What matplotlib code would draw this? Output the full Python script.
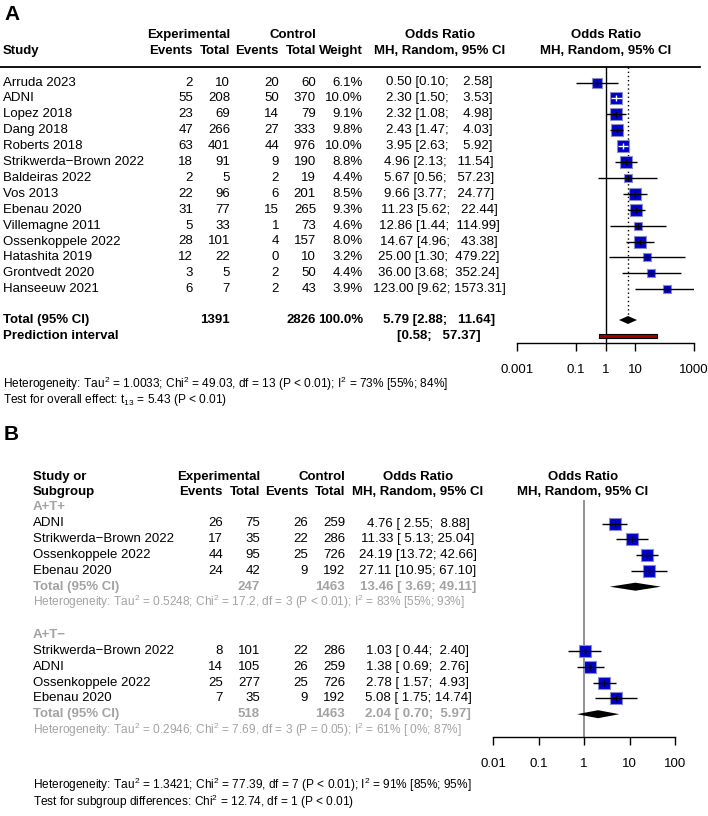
import matplotlib
matplotlib.use("Agg")
import matplotlib.pyplot as plt
import numpy as np

plt.rcParams['font.family'] = ['Liberation Sans', 'DejaVu Sans']
plt.rcParams['mathtext.fontset'] = 'custom'
plt.rcParams['mathtext.rm'] = 'Liberation Sans'
plt.rcParams['mathtext.it'] = 'Liberation Sans:italic'
plt.rcParams['mathtext.bf'] = 'Liberation Sans:bold'

# ---- panel A data
studies_a = ["Arruda 2023", "ADNI", "Lopez 2018", "Dang 2018", "Roberts 2018",
             "Strikwerda\u2212Brown 2022", "Baldeiras 2022", "Vos 2013", "Ebenau 2020",
             "Villemagne 2011", "Ossenkoppele 2022", "Hatashita 2019", "Grontvedt 2020",
             "Hanseeuw 2021"]
ev_exp_a = [2, 55, 23, 47, 63, 18, 2, 22, 31, 5, 28, 12, 3, 6]
n_exp_a = [10, 208, 69, 266, 401, 91, 5, 96, 77, 33, 101, 22, 5, 7]
ev_ctl_a = [20, 50, 14, 27, 44, 9, 2, 6, 15, 1, 4, 0, 2, 2]
n_ctl_a = [60, 370, 79, 333, 976, 190, 19, 201, 265, 73, 157, 10, 50, 43]
weight_a = [6.1, 10.0, 9.1, 9.8, 10.0, 8.8, 4.4, 8.5, 9.3, 4.6, 8.0, 3.2, 4.4, 3.9]
or_a = [0.50, 2.30, 2.32, 2.43, 3.95, 4.96, 5.67, 9.66, 11.23, 12.86, 14.67, 25.00, 36.00, 123.00]
lo_a = [0.10, 1.50, 1.08, 1.47, 2.63, 2.13, 0.56, 3.77, 5.62, 1.44, 4.96, 1.30, 3.68, 9.62]
hi_a = [2.58, 3.53, 4.98, 4.03, 5.92, 11.54, 57.23, 24.77, 22.44, 114.99, 43.38, 479.22, 352.24, 1573.31]
tot_n_a = [1391, 2826]
tot_or_a = [5.79, 2.88, 11.64]
pred_a = [0.58, 57.37]
ticks_a = [0.001, 0.1, 1, 10, 1000]
tick_lab_a = ["0.001", "0.1", "1", "10", "1000"]

# ---- panel B data
groups_b = ["A+T+", "A+T\u2212"]
studies_b = [["ADNI", "Strikwerda\u2212Brown 2022", "Ossenkoppele 2022", "Ebenau 2020"],
             ["Strikwerda\u2212Brown 2022", "ADNI", "Ossenkoppele 2022", "Ebenau 2020"]]
ev_exp_b = [[26, 17, 44, 24], [8, 14, 25, 7]]
n_exp_b = [[75, 35, 95, 42], [101, 105, 277, 35]]
ev_ctl_b = [[26, 22, 25, 9], [22, 26, 25, 9]]
n_ctl_b = [[259, 286, 726, 192], [286, 259, 726, 192]]
or_b = [[4.76, 11.33, 24.19, 27.11], [1.03, 1.38, 2.78, 5.08]]
lo_b = [[2.55, 5.13, 13.72, 10.95], [0.44, 0.69, 1.57, 1.75]]
hi_b = [[8.88, 25.04, 42.66, 67.10], [2.40, 2.76, 4.93, 14.74]]
tot_n_b = [[247, 1463], [518, 1463]]
tot_or_b = [[13.46, 3.69, 49.11], [2.04, 0.70, 5.97]]
het_b = [r"Heterogeneity: Tau$^2$ = 0.5248; Chi$^2$ = 17.2, df = 3 (P < 0.01); I$^2$ = 83% [55%; 93%]",
         r"Heterogeneity: Tau$^2$ = 0.2946; Chi$^2$ = 7.69, df = 3 (P = 0.05); I$^2$ = 61% [ 0%; 87%]"]
ticks_b = [0.01, 0.1, 1, 10, 100]
tick_lab_b = ["0.01", "0.1", "1", "10", "100"]

W, H = 708, 816
FS = 9.5
GREY = "#a3a3a3"
BLUE = "#0000cc"

fig = plt.figure(figsize=(W / 100, H / 100), dpi=100)
main = fig.add_axes([0, 0, 1, 1])
main.set_xlim(0, W)
main.set_ylim(H, 0)
main.axis("off")


def t(x, y, s, ha="left", bold=False, color="black", size=FS):
    main.text(x, y, s, ha=ha, va="center", fontsize=size, color=color,
              fontweight="bold" if bold else "normal")


def forest_ax(x0, x1, y0, y1, xlim, ticks, labels):
    ax = fig.add_axes([x0 / W, 1 - y1 / H, (x1 - x0) / W, (y1 - y0) / H])
    ax.set_facecolor("none")
    ax.set_xscale("log")
    ax.set_xlim(*xlim)
    ax.set_ylim(y1, y0)
    for sp in ["top", "left", "right"]:
        ax.spines[sp].set_visible(False)
    ax.spines["bottom"].set_linewidth(1.0)
    ax.set_yticks([])
    ax.set_xticks(ticks)
    ax.set_xticklabels(labels)
    ax.minorticks_off()
    ax.tick_params(axis="x", direction="out", length=6, width=1.0, pad=9, labelsize=FS)
    return ax


def draw_study(ax, est, lo, hi, y, side, ppd):
    ax.scatter([est], [y], s=(side * 0.72) ** 2, marker="s", color=BLUE,
               edgecolors="#8c8cc8", linewidths=0.8, zorder=3)
    half = side / 2 / ppd
    inside = (np.log10(hi) - np.log10(est) < half) and (np.log10(est) - np.log10(lo) < half)
    col = "white" if inside else "black"
    ax.hlines(y, lo, hi, color=col, lw=1.0, zorder=4)
    ax.plot([est], [y], marker="|", ms=4, mew=1.0, color=col, zorder=4)


def diamond(ax, est, lo, hi, y, h=4):
    ax.fill([lo, est, hi, est], [y, y - h, y, y + h], color="black", lw=0, zorder=3)


# ================= Panel A =================
t(4, 14, "A", bold=True, size=15)
t(230, 35, "Experimental", ha="right", bold=True)
t(316, 35, "Control", ha="right", bold=True)
t(440, 35, "Odds Ratio", ha="center", bold=True)
t(606, 35, "Odds Ratio", ha="center", bold=True)
t(3, 51, "Study", bold=True)
t(193, 51, "Events", ha="right", bold=True)
t(230, 51, "Total", ha="right", bold=True)
t(279, 51, "Events", ha="right", bold=True)
t(316, 51, "Total", ha="right", bold=True)
t(363, 51, "Weight", ha="right", bold=True)
t(440, 51, "MH, Random, 95% CI", ha="center", bold=True)
t(606, 51, "MH, Random, 95% CI", ha="center", bold=True)
main.plot([0, 700], [67, 67], color="black", lw=1.3)

axA = forest_ax(517, 694, 67, 343, (0.001, 1000), ticks_a, tick_lab_a)
ppd_a = 177 / 6
rows_a = 82.5 + 15.9 * np.arange(len(studies_a))
for i, y in enumerate(rows_a):
    t(3, y, studies_a[i])
    t(193, y, str(ev_exp_a[i]), ha="right")
    t(230, y, str(n_exp_a[i]), ha="right")
    t(279, y, str(ev_ctl_a[i]), ha="right")
    t(316, y, str(n_ctl_a[i]), ha="right")
    t(363, y, f"{weight_a[i]:.1f}%", ha="right")
    t(439, y, f"{or_a[i]:.2f} [{lo_a[i]:.2f}; {hi_a[i]:>7.2f}]", ha="center")
    side = 12.5 * np.sqrt(weight_a[i] / 10.0)
    draw_study(axA, or_a[i], lo_a[i], hi_a[i], y, side, ppd_a)

y_tot, y_pred = 320, 336
t(3, y_tot, "Total (95% CI)", bold=True)
t(230, y_tot, str(tot_n_a[0]), ha="right", bold=True)
t(316, y_tot, str(tot_n_a[1]), ha="right", bold=True)
t(363, y_tot, "100.0%", ha="right", bold=True)
t(439, y_tot, f"{tot_or_a[0]:.2f} [{tot_or_a[1]:.2f}; {tot_or_a[2]:>7.2f}]", ha="center", bold=True)
t(3, y_pred, "Prediction interval", bold=True)
t(439, y_pred, f"[{pred_a[0]:.2f}; {pred_a[1]:>7.2f}]", ha="center", bold=True)

axA.vlines(1, 67, 343, color="black", lw=1.0, zorder=2)
axA.vlines(tot_or_a[0], 67, y_tot - 4, color="black", lw=1.0, linestyles=(0, (1, 2)), zorder=2)
diamond(axA, tot_or_a[0], tot_or_a[1], tot_or_a[2], y_tot)
axA.fill([pred_a[0], pred_a[1], pred_a[1], pred_a[0]],
         [y_pred - 2, y_pred - 2, y_pred + 2, y_pred + 2],
         facecolor="#a10000", edgecolor="black", lw=0.8, zorder=3)

t(3, 384, r"Heterogeneity: Tau$^2$ = 1.0033; Chi$^2$ = 49.03, df = 13 (P < 0.01); I$^2$ = 73% [55%; 84%]", size=8.6)
t(3, 400, r"Test for overall effect: t$_{13}$ = 5.43 (P < 0.01)", size=8.6)

# ================= Panel B =================
t(4, 434, "B", bold=True, size=15)
t(33, 477, "Study or", bold=True)
t(33, 492, "Subgroup", bold=True)
t(260, 477, "Experimental", ha="right", bold=True)
t(345, 477, "Control", ha="right", bold=True)
t(418, 477, "Odds Ratio", ha="center", bold=True)
t(583, 477, "Odds Ratio", ha="center", bold=True)
t(223, 492, "Events", ha="right", bold=True)
t(260, 492, "Total", ha="right", bold=True)
t(308, 492, "Events", ha="right", bold=True)
t(345, 492, "Total", ha="right", bold=True)
t(418, 492, "MH, Random, 95% CI", ha="center", bold=True)
t(583, 492, "MH, Random, 95% CI", ha="center", bold=True)

axB = forest_ax(493, 675, 500, 737, (0.01, 100), ticks_b, tick_lab_b)
ppd_b = 182 / 4
axB.vlines(1, 500, 737, color="#7f7f7f", lw=1.2, zorder=2)

group_top = [507.5, 635]
for g in range(2):
    y0 = group_top[g]
    t(33, y0, groups_b[g], bold=True, color=GREY)
    for i in range(4):
        y = y0 + 16 + 15.8 * i
        t(33, y, studies_b[g][i])
        t(223, y, str(ev_exp_b[g][i]), ha="right")
        t(260, y, str(n_exp_b[g][i]), ha="right")
        t(308, y, str(ev_ctl_b[g][i]), ha="right")
        t(345, y, str(n_ctl_b[g][i]), ha="right")
        t(418, y, f"{or_b[g][i]:.2f} [{lo_b[g][i]:5.2f}; {hi_b[g][i]:5.2f}]", ha="center")
        draw_study(axB, or_b[g][i], lo_b[g][i], hi_b[g][i], y, 12.7, ppd_b)
    yt = y0 + 16 + 15.8 * 4
    t(33, yt, "Total (95% CI)", bold=True, color=GREY)
    t(260, yt, str(tot_n_b[g][0]), ha="right", bold=True, color=GREY)
    t(345, yt, str(tot_n_b[g][1]), ha="right", bold=True, color=GREY)
    est, lo, hi = tot_or_b[g]
    t(418, yt, f"{est:.2f} [{lo:5.2f}; {hi:5.2f}]", ha="center", bold=True, color=GREY)
    diamond(axB, est, lo, hi, yt)
    t(33, yt + 15.5, het_b[g], color=GREY, size=8.6)

t(33, 785, r"Heterogeneity: Tau$^2$ = 1.3421; Chi$^2$ = 77.39, df = 7 (P < 0.01); I$^2$ = 91% [85%; 95%]", size=8.6)
t(33, 801.5, r"Test for subgroup differences: Chi$^2$ = 12.74, df = 1 (P < 0.01)", size=8.6)

fig.savefig("out.png", dpi=100)
